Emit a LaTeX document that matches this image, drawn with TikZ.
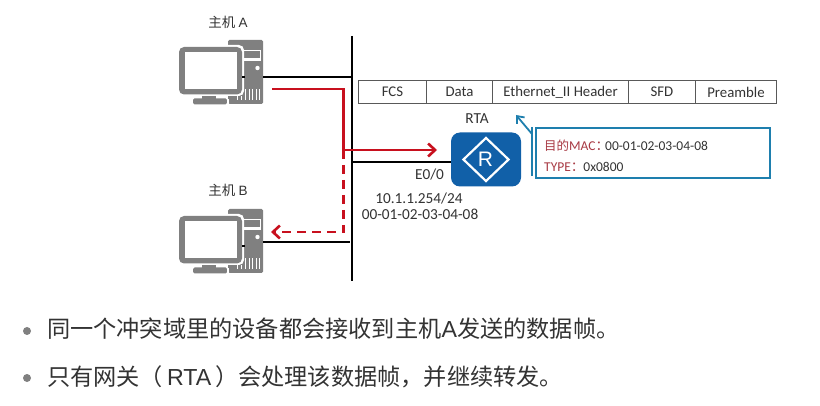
\documentclass[tikz,border=0pt]{standalone}
\usepackage{fontspec}
\setmainfont{Carlito}
\newfontfamily\cjk{Noto Sans CJK SC}
\newfontfamily\lat{Liberation Sans}
\usetikzlibrary{arrows.meta,shapes.geometric}
\definecolor{pcgray}{HTML}{808080}
\definecolor{redline}{HTML}{C8101E}
\definecolor{routerblue}{HTML}{1160A8}
\definecolor{calloutblue}{HTML}{1E7FAE}
\definecolor{txt}{HTML}{333333}
\definecolor{dimred}{HTML}{A83A44}
\tikzset{
  x=1pt,y=-1pt,
  bus/.style={line width=2.4pt,black},
  redarrow/.style={line width=2.6pt,redline,-{Straight Barb[length=7pt,width=13pt,line width=2.6pt]}},
  cell/.style={draw=black!65,line width=1pt,minimum height=23pt,inner sep=0pt,text=txt,font=\fontsize{14.8}{16}\selectfont,anchor=north west},
  lab/.style={text=txt,inner sep=0pt,font=\fontsize{15.3}{17}\selectfont},
  hostlab/.style={text=txt,inner sep=0pt,font=\fontsize{13.5}{15}\selectfont},
  bullettext/.style={text=txt,inner sep=0pt,anchor=west,font=\fontsize{23.2}{27}\selectfont},
  bulletdot/.style={circle,fill=pcgray,inner sep=0pt,minimum size=8pt},
}
\newcommand{\pcicon}[2]{%
  \begin{scope}[shift={(#1,#2)}]
    % tower
    \fill[pcgray,rounded corners=1.5pt] (228,40) rectangle (263,104);
    \fill[white] (243,50) rectangle (261,60);
    \fill[pcgray] (244,51.5) rectangle (260,58.5);
    \fill[white] (243,60) rectangle (261,61);
    \fill[white] (257.5,68) circle (2.2pt);
    \foreach \xx in {245,248.5,252,255.5,259}{\fill[white] (\xx,89) rectangle (\xx+1.4,100);}
    \foreach \xx in {237,241}{\fill[white] (\xx,96) rectangle (\xx+1.4,100);}
    % base and neck
    \fill[pcgray] (202,94) rectangle (216,99);
    \fill[pcgray,rounded corners=1.5pt] (193,98.5) rectangle (227,104.5);
    % monitor
    \fill[white,rounded corners=5pt] (177,45) rectangle (244,96);
    \fill[pcgray,rounded corners=5pt] (179,47) rectangle (242,94.5);
    \fill[white] (185,52) rectangle (237,89);
    \fill[white] (227,99) rectangle (229,104.5);
    \fill[black] (242,76) rectangle (245,78);
  \end{scope}}
\begin{document}
\begin{tikzpicture}
\useasboundingbox (0,0) rectangle (820,406);
\fill[white] (0,0) rectangle (820,406);

\pcicon{0}{0}
\pcicon{0}{169}
\node[hostlab] (hostA) at (228,22) {{\cjk 主机} {\lat A}};
\node[hostlab] (hostB) at (228,190) {{\cjk 主机} {\lat B}};

% coordinates
\coordinate (busT) at (352,36);
\coordinate (busB) at (352,281);
\coordinate (pcA) at (263,77);
\coordinate (busA) at (352,77);
\coordinate (pcB) at (263,242);
\coordinate (busPB) at (350,242);
\coordinate (busR) at (352,162);

% frame
\node[cell,minimum width=68pt] (fcs) at (358,80) {FCS};
\node[cell,minimum width=66pt] (data) at (426,80) {Data};
\node[cell,minimum width=136pt] (hdr) at (492,80) {Ethernet\_II Header};
\node[cell,minimum width=67pt] (sfd) at (628,80) {SFD};
\node[cell,minimum width=81pt] (pre) at (695,80) {Preamble};

% router
\node[fill=routerblue,rounded corners=9pt,minimum width=70pt,minimum height=54pt,inner sep=0pt] (rta) at (486,159.5) {};
\node[diamond,draw=white,line width=2.2pt,aspect=1.05,minimum width=46pt,minimum height=44pt,inner sep=0pt,text=white] (dia) at (rta.center) {};
\node[text=white,inner sep=0pt,font=\fontsize{21}{23}\selectfont\fontspec{Liberation Sans}] (rlet) at (485.5,159) {R};
\node[lab] (rtalab) at (477,118.5) {RTA};
\node[lab] (e00) at (429.5,175) {E0/0};
\node[lab] (ip) at (419,199) {10.1.1.254/24};
\node[lab] (mac) at (420,214.5) {00-01-02-03-04-08};

% wires
\draw[bus] (busT) -- (busB);
\draw[bus] (pcA) -- (busA);
\draw[bus] (pcB) -- (busPB);
\draw[bus] (busR) -- (rta.west |- busR);

% red paths
\coordinate (redS) at (272,89);
\coordinate (redC) at (343.5,89);
\coordinate (redM) at (343.5,150);
\coordinate (redE) at (437,150);
\coordinate (dashC) at (343.5,232);
\coordinate (dashE) at (271,232);
\draw[redarrow] (redS) -- (redC) -- (redM) -- (redE);
\draw[redarrow,dash pattern=on 9pt off 6pt] (redM) -- (dashC) -- (dashE);

% callout
\node[draw=calloutblue,line width=2pt,fill=white,minimum width=234pt,minimum height=50pt,inner sep=0pt,anchor=north west] (call) at (535,127) {};
\draw[calloutblue,line width=1.2pt] (532,127) -- (532,176);
\coordinate (callT) at (532,134);
\coordinate (callP) at (516,115);
\draw[calloutblue,line width=1.8pt,-{Straight Barb[length=6pt,width=10pt,line width=1.8pt]}] (callT) -- (callP);
\node[anchor=west,inner sep=0pt,font=\fontsize{13.5}{15}\selectfont] (l1) at (544,145.5) {\textcolor{dimred}{{\cjk\fontsize{12.5}{14}\selectfont 目的}MAC{\cjk ：}}\kern-4pt\textcolor{txt}{00-01-02-03-04-08}};
\node[anchor=west,inner sep=0pt,font=\fontsize{13.5}{15}\selectfont] (l2) at (544,166.5) {\textcolor{dimred}{TYPE{\cjk ：}}\kern-1pt\textcolor{txt}{0x0800}};

% bullets
\node[bulletdot] (b1) at (27,331) {};
\node[bulletdot] (b2) at (27,378) {};
\node[bullettext] (t1) at (47,329) {{\cjk 同一个冲突域里的设备都会接收到主机}{\lat A}{\cjk 发送的数据帧。}};
\node[bullettext] (t2) at (47,377) {{\cjk 只有网关（}{\lat\,RTA\,}{\cjk ）会处理该数据帧，并继续转发。}};
\end{tikzpicture}
\end{document}
